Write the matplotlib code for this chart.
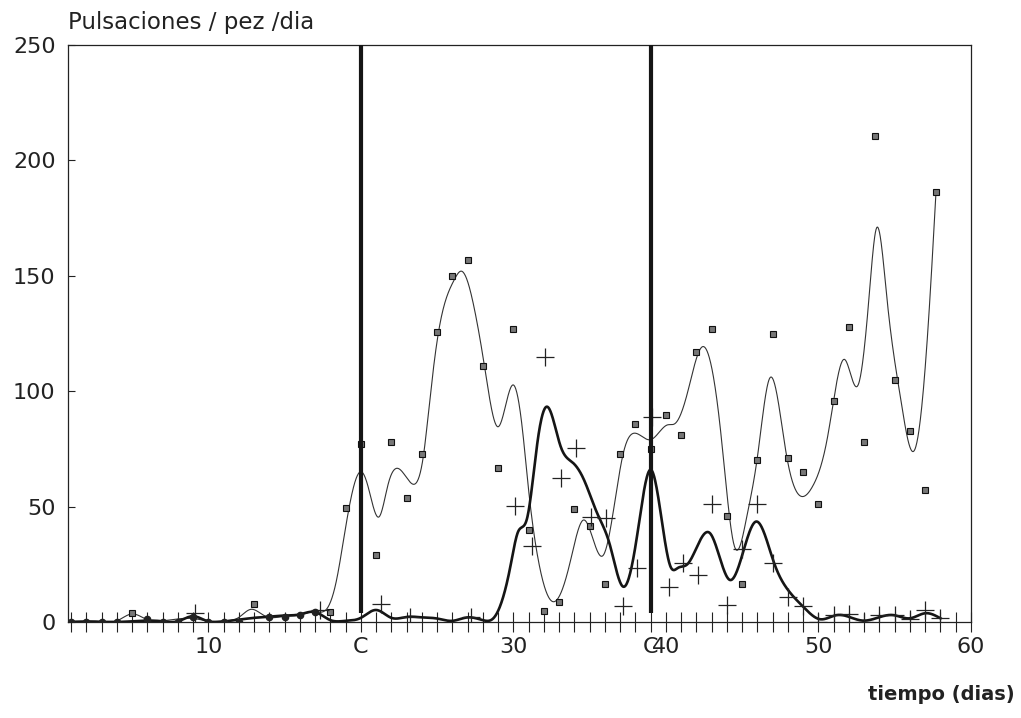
import numpy as np
import matplotlib
matplotlib.use("Agg")
import matplotlib.pyplot as plt

plt.rcParams['font.family'] = ['DejaVu Sans']

# squares (thin curve series)
sq_days = [5, 13, 18, 19, 20, 21, 22, 23, 24, 25, 26, 27, 28, 29, 30, 31, 32, 33,
           34, 35, 36, 37, 38, 39, 40, 41, 42, 43, 44, 45, 46, 47, 48, 49, 50, 51,
           52, 53, 53.7, 55, 56, 57, 57.7]
sq_vals = [3.8, 7.8, 4.2, 49.5, 77, 29, 78, 53.6, 72.7, 125.5, 150, 157, 111, 66.6,
           127, 40, 4.8, 8.5, 49, 41.7, 16.3, 73, 86, 75, 89.7, 81, 117, 127, 46,
           16.3, 70.2, 124.8, 71.2, 65, 51, 95.8, 127.7, 77.9, 210.6, 104.9, 82.9,
           57.2, 186.4]

# crosses (thick curve series)
cr_days = [9.1, 17.3, 21.3, 23.2, 27.2, 30.1, 31.2, 32.1, 33.1, 34.1, 35.1, 36.1,
           37.2, 38.1, 39.1, 40.2, 41.1, 42.1, 43, 44, 45, 46, 47, 48, 49, 50, 51,
           52, 53, 54, 55, 56, 57, 58]
cr_vals = [3.8, 5, 8, 2.3, 2.3, 50.3, 33, 114.8, 62.3, 75.3, 45.6, 45.2, 7.1, 23.5,
           89, 15.3, 25.4, 20.4, 51.1, 7.4, 31.5, 51.1, 25.4, 11, 6.9, 0, 3, 3.5,
           0, 3, 3, 1.2, 5.2, 1.6]

# dots (first period)
dot_days = [1, 2, 3, 4, 6, 7, 8, 9, 10, 11, 12, 14, 15, 16, 17]
dot_vals = [0, 0, 0, 0, 1.2, 0, 0, 2.2, 0, 0, 0, 2.1, 2.2, 3, 4.2]

# fitted curves
thin_x = [1, 3, 4, 5, 6, 7, 9, 10, 11, 12, 12.8, 13.6, 14, 15, 16, 17, 17.8, 18.4,
          18.9, 19.3, 20.06, 20.5, 21.2, 21.8, 22.4, 23.2, 24.1, 24.5, 25.1, 26.1,
          26.6, 27.4, 28.1, 29.0, 30.0, 30.6, 31.0, 31.6, 32.6, 33.7, 34.6, 35.9,
          36.6, 37.2, 38.0, 39.0, 40.1, 40.6, 41.4, 42.4, 43.6, 44.5, 45.3, 46.0,
          46.8, 47.9, 49.6, 50.6, 51.7, 52.6, 53.3, 53.8, 54.5, 55.4, 56.3, 57.3,
          57.7]
thin_y = [0.3, 0.3, 0.5, 3.5, 1, 0.5, 1.5, 0.5, 0.5, 2, 5.5, 3, 2, 2.5, 3, 4.5, 6,
          18, 37, 52, 65, 58, 45.6, 60, 66.6, 60.8, 72, 95, 126, 148, 152, 137, 111,
          84.6, 102.7, 83, 57, 28, 8.8, 25.4, 44.2, 29, 50, 73, 81.8, 79, 85.4, 86,
          99, 119.3, 81.8, 32.6, 45.6, 71.6, 105.6, 72.4, 58.6, 80.3, 113.8, 102.7,
          139.5, 170.6, 139.5, 96.2, 74.5, 139.5, 185.7]

thick_x = [1, 2, 3, 4, 5, 6, 7, 8, 9, 10, 11, 12, 13, 14, 15, 16, 17, 18, 19, 20, 21,
           22, 23, 24, 25, 26, 27, 28, 28.7, 29.8, 30.3, 30.9, 31.6, 32.2, 33.1, 33.9,
           34.6, 35.5, 36.3, 37.2, 38.1, 39, 40.3, 40.8, 41.4, 42.9, 44.2, 45.9, 47.1,
           48, 49, 50.1, 51.2, 52.9, 54.9, 56, 57, 58]
thick_y = [0, 0, 0, 0, 0.3, 0.6, 0.3, 0.3, 2.5, 0.2, 0.2, 1, 1.8, 2.3, 2.8, 3.3, 4.3,
           0.8, 0.5, 1.8, 5.2, 1.8, 2.2, 2, 1.5, 0.5, 2, 0.8, 1.7, 24, 39, 45, 79,
           93.3, 76, 69, 62, 47, 34, 15.3, 37, 66, 24, 23.5, 25, 38.4, 18.2, 43.5,
           25.4, 13.9, 6.6, 1.2, 3, 0.6, 3, 1.6, 3.8, 1.6]


def spline(xk, yk, n=2500):
    # natural cubic spline through the read points, for a smooth drawn line
    xk = np.asarray(xk, float)
    yk = np.asarray(yk, float)
    m = len(xk)
    h = np.diff(xk)
    A = np.zeros((m, m))
    r = np.zeros(m)
    A[0, 0] = A[-1, -1] = 1
    for i in range(1, m - 1):
        A[i, i - 1] = h[i - 1]
        A[i, i] = 2 * (h[i - 1] + h[i])
        A[i, i + 1] = h[i]
        r[i] = 3 * ((yk[i + 1] - yk[i]) / h[i] - (yk[i] - yk[i - 1]) / h[i - 1])
    c = np.linalg.solve(A, r)
    b = (yk[1:] - yk[:-1]) / h - h * (2 * c[:-1] + c[1:]) / 3
    d = (c[1:] - c[:-1]) / (3 * h)
    xs = np.linspace(xk[0], xk[-1], n)
    i = np.clip(np.searchsorted(xk, xs) - 1, 0, m - 2)
    t = xs - xk[i]
    ys = yk[i] + b[i] * t + c[i] * t**2 + d[i] * t**3
    return xs, ys


fig = plt.figure(figsize=(10.21, 7.18), dpi=100)
ax = fig.add_axes([68 / 1021, 96 / 718, 903 / 1021, 577 / 718])

tx, ty = spline(thin_x, thin_y)
ax.plot(tx, ty, color="#333333", lw=0.8, zorder=2)
kx, ky = spline(thick_x, thick_y)
ax.plot(kx, ky, color="#151515", lw=1.9, zorder=3)

ax.plot(sq_days, sq_vals, ls="none", marker="s", ms=4.2, mfc="#777777",
        mec="#111111", mew=0.8, zorder=4)
ax.plot(cr_days, cr_vals, ls="none", marker="+", ms=13, mec="#222222",
        mew=0.9, zorder=4)
ax.plot(dot_days, dot_vals, ls="none", marker="o", ms=4.5, mfc="#222222",
        mec="#222222", zorder=4)

ax.vlines([20, 39], 4, 250, color="#151515", lw=3, zorder=5)

ax.set_xlim(0.8, 60)
ax.set_ylim(0, 250)

xt = list(range(1, 61))
xl = ["" for _ in xt]
for d, lab in [(10, "10"), (20, "C"), (30, "30"), (39, "C"), (40, "40"),
               (50, "50"), (60, "60")]:
    xl[d - 1] = lab
ax.set_xticks(xt)
ax.set_xticklabels(xl)
ax.tick_params(axis="x", direction="inout", length=14, width=0.8,
               labelsize=16, pad=4, colors="#222222")
ax.set_yticks([0, 50, 100, 150, 200, 250])
ax.tick_params(axis="y", direction="in", length=5, width=0.8,
               labelsize=16, pad=9, colors="#222222")

for s in ax.spines.values():
    s.set_linewidth(0.9)
    s.set_color("#222222")

fig.text(68 / 1021, 1 - 22 / 718, "Pulsaciones / pez /dia", ha="left",
         va="center", fontsize=16.5, color="#222222")
fig.text(1015 / 1021, 1 - 695 / 718, "tiempo (dias)", ha="right",
         va="center", fontsize=14, fontweight="bold", color="#222222")

fig.savefig("out.png", dpi=100, facecolor="white")
